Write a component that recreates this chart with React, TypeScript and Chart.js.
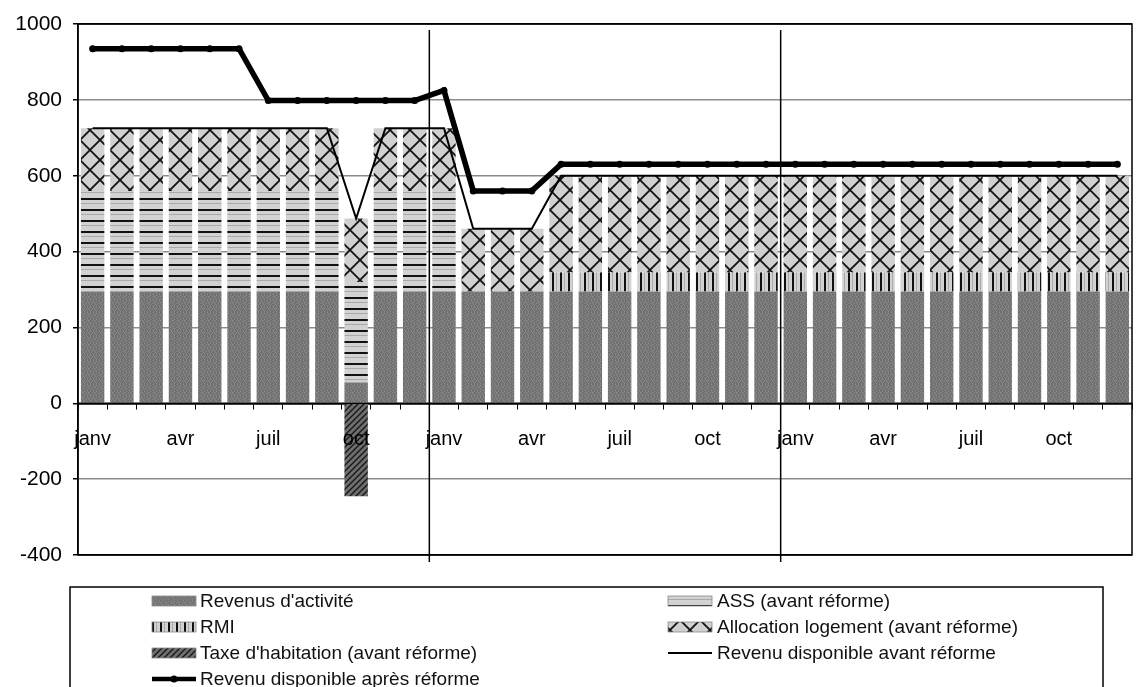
import React, { useEffect, useRef } from 'react';
import { Chart, registerables } from 'chart.js';

Chart.register(...registerables);

const months = [
  'janv', 'févr', 'mars', 'avr', 'mai', 'juin', 'juil', 'août', 'sept', 'oct', 'nov', 'déc',
  'janv', 'févr', 'mars', 'avr', 'mai', 'juin', 'juil', 'août', 'sept', 'oct', 'nov', 'déc',
  'janv', 'févr', 'mars', 'avr', 'mai', 'juin', 'juil', 'août', 'sept', 'oct', 'nov', 'déc',
];

const revenusActivite = [
  295, 295, 295, 295, 295, 295, 295, 295, 295, 55, 295, 295,
  295, 295, 295, 295, 295, 295, 295, 295, 295, 295, 295, 295,
  295, 295, 295, 295, 295, 295, 295, 295, 295, 295, 295, 295,
];
const assAvant = [
  265, 265, 265, 265, 265, 265, 265, 265, 265, 265, 265, 265,
  265, 0, 0, 0, 0, 0, 0, 0, 0, 0, 0, 0,
  0, 0, 0, 0, 0, 0, 0, 0, 0, 0, 0, 0,
];
const rmi = [
  0, 0, 0, 0, 0, 0, 0, 0, 0, 0, 0, 0,
  0, 0, 0, 0, 50, 50, 50, 50, 50, 50, 50, 50,
  50, 50, 50, 50, 50, 50, 50, 50, 50, 50, 50, 50,
];
const allocationLogement = [
  165, 165, 165, 165, 165, 165, 165, 165, 165, 167, 165, 165,
  165, 165, 165, 165, 255, 255, 255, 255, 255, 255, 255, 255,
  255, 255, 255, 255, 255, 255, 255, 255, 255, 255, 255, 255,
];
const taxeHabitation = [
  0, 0, 0, 0, 0, 0, 0, 0, 0, -245, 0, 0,
  0, 0, 0, 0, 0, 0, 0, 0, 0, 0, 0, 0,
  0, 0, 0, 0, 0, 0, 0, 0, 0, 0, 0, 0,
];
const revenuAvant = [
  725, 725, 725, 725, 725, 725, 725, 725, 725, 487, 725, 725,
  725, 460, 460, 460, 600, 600, 600, 600, 600, 600, 600, 600,
  600, 600, 600, 600, 600, 600, 600, 600, 600, 600, 600, 600,
];
const revenuApres = [
  935, 935, 935, 935, 935, 935, 798, 798, 798, 798, 798, 798,
  825, 560, 560, 560, 630, 630, 630, 630, 630, 630, 630, 630,
  630, 630, 630, 630, 630, 630, 630, 630, 630, 630, 630, 630,
];
const yTicks = [1000, 800, 600, 400, 200, 0, -200, -400];

const FONT = '"Liberation Sans", Arial, Helvetica, sans-serif';

function makePattern(w: number, h: number, draw: (g: CanvasRenderingContext2D) => void): CanvasPattern {
  const c = document.createElement('canvas');
  c.width = w;
  c.height = h;
  const g = c.getContext('2d') as CanvasRenderingContext2D;
  draw(g);
  return g.createPattern(c, 'repeat') as CanvasPattern;
}

function buildPatterns() {
  const stipple = [
    [0, 1, 0, 2, 1, 0],
    [2, 0, 1, 0, 0, 1],
    [0, 1, 0, 0, 2, 0],
    [1, 0, 2, 1, 0, 0],
    [0, 0, 1, 0, 1, 2],
    [2, 1, 0, 0, 0, 1],
  ];
  const shades = ['#7a7a7a', '#6a6a6a', '#8c8c8c'];
  const revenus = makePattern(6, 6, (g) => {
    for (let y = 0; y < 6; y++) {
      for (let x = 0; x < 6; x++) {
        g.fillStyle = shades[stipple[y][x]];
        g.fillRect(x, y, 1, 1);
      }
    }
  });
  const ass = makePattern(10, 11, (g) => {
    g.fillStyle = '#d2d2d2';
    g.fillRect(0, 0, 10, 11);
    g.fillStyle = '#111';
    g.fillRect(0, 0, 10, 2);
    g.fillStyle = '#a9a9a9';
    g.fillRect(0, 5, 10, 1);
  });
  const rmiP = makePattern(8, 10, (g) => {
    g.fillStyle = '#d2d2d2';
    g.fillRect(0, 0, 8, 10);
    g.fillStyle = '#111';
    g.fillRect(0, 0, 2, 10);
    g.fillStyle = '#ababab';
    g.fillRect(4, 0, 1, 10);
  });
  const al = makePattern(20, 20, (g) => {
    g.fillStyle = '#d0d0d0';
    g.fillRect(0, 0, 20, 20);
    g.strokeStyle = '#111';
    g.lineWidth = 1.8;
    g.beginPath();
    g.moveTo(-2, -2);
    g.lineTo(22, 22);
    g.moveTo(22, -2);
    g.lineTo(-2, 22);
    g.stroke();
  });
  const taxe = makePattern(6, 6, (g) => {
    g.fillStyle = '#6e6e6e';
    g.fillRect(0, 0, 6, 6);
    g.strokeStyle = '#151515';
    g.lineWidth = 1.3;
    g.beginPath();
    g.moveTo(-1, 7);
    g.lineTo(7, -1);
    g.moveTo(-4, 4);
    g.lineTo(4, -4);
    g.moveTo(2, 10);
    g.lineTo(10, 2);
    g.stroke();
  });
  return { revenus, ass, rmi: rmiP, al, taxe };
}

export default function App() {
  const ref = useRef<HTMLCanvasElement | null>(null);

  useEffect(() => {
    const canvas = ref.current;
    if (!canvas) return;
    const p = buildPatterns();

    const framePlugin = {
      id: 'frame',
      afterDatasetsDraw(chart: any) {
        const { ctx, chartArea, scales } = chart;
        const xs = scales.x;
        const ys = scales.y;
        ctx.save();
        ctx.strokeStyle = '#000';
        ctx.lineWidth = 1.5;
        [12, 24].forEach((i) => {
          const x = (xs.getPixelForValue(i - 1) + xs.getPixelForValue(i)) / 2;
          ctx.beginPath();
          ctx.moveTo(x, chartArea.top + 6);
          ctx.lineTo(x, chartArea.bottom + 7);
          ctx.stroke();
        });
        const y0 = ys.getPixelForValue(0);
        ctx.lineWidth = 1.5;
        ctx.beginPath();
        ctx.moveTo(chartArea.left, y0);
        ctx.lineTo(chartArea.right, y0);
        ctx.stroke();
        ctx.strokeRect(chartArea.left, chartArea.top, chartArea.right - chartArea.left, chartArea.bottom - chartArea.top);
        ctx.restore();
      },
      afterDraw(chart: any) {
        const { ctx } = chart;
        ctx.save();
        ctx.strokeStyle = '#000';
        ctx.lineWidth = 1.5;
        ctx.strokeRect(70, 587, 1033, 200);
        const rows = [601, 627, 653, 679];
        const items = [
          { col: 0, row: 0, kind: 'box', fill: p.revenus, text: "Revenus d'activité" },
          { col: 1, row: 0, kind: 'box', fill: p.ass, text: 'ASS (avant réforme)' },
          { col: 0, row: 1, kind: 'box', fill: p.rmi, text: 'RMI' },
          { col: 1, row: 1, kind: 'box', fill: p.al, text: 'Allocation logement (avant réforme)' },
          { col: 0, row: 2, kind: 'box', fill: p.taxe, text: "Taxe d'habitation (avant réforme)" },
          { col: 1, row: 2, kind: 'thin', fill: null, text: 'Revenu disponible avant réforme' },
          { col: 0, row: 3, kind: 'thick', fill: null, text: 'Revenu disponible après réforme' },
        ];
        const cols = [
          { sx: 152, sw: 44, tx: 200 },
          { sx: 668, sw: 44, tx: 717 },
        ];
        ctx.font = `19px ${FONT}`;
        ctx.textBaseline = 'middle';
        ctx.textAlign = 'left';
        items.forEach((it) => {
          const c = cols[it.col];
          const y = rows[it.row];
          if (it.kind === 'box') {
            ctx.fillStyle = it.fill;
            ctx.fillRect(c.sx, y - 5, c.sw, 10);
            ctx.strokeStyle = '#8a8a8a';
            ctx.lineWidth = 0.8;
            ctx.strokeRect(c.sx, y - 5, c.sw, 10);
          } else {
            ctx.strokeStyle = '#000';
            ctx.lineWidth = it.kind === 'thick' ? 4.5 : 2;
            ctx.beginPath();
            ctx.moveTo(c.sx, y);
            ctx.lineTo(c.sx + c.sw, y);
            ctx.stroke();
            if (it.kind === 'thick') {
              ctx.fillStyle = '#000';
              ctx.beginPath();
              ctx.arc(c.sx + c.sw / 2, y, 3.5, 0, Math.PI * 2);
              ctx.fill();
            }
          }
          ctx.fillStyle = '#111';
          ctx.fillText(it.text, c.tx, y + 1);
        });
        ctx.restore();
      },
    };

    const barCommon = {
      type: 'bar' as const,
      barPercentage: 0.8,
      categoryPercentage: 1,
      borderWidth: 0,
      order: 2,
    };

    const chart = new Chart(canvas, {
      type: 'bar',
      data: {
        labels: months,
        datasets: [
          { ...barCommon, label: "Revenus d'activité", data: revenusActivite, backgroundColor: p.revenus },
          { ...barCommon, label: 'ASS (avant réforme)', data: assAvant, backgroundColor: p.ass },
          { ...barCommon, label: 'RMI', data: rmi, backgroundColor: p.rmi },
          { ...barCommon, label: 'Allocation logement (avant réforme)', data: allocationLogement, backgroundColor: p.al },
          { ...barCommon, label: "Taxe d'habitation (avant réforme)", data: taxeHabitation, backgroundColor: p.taxe },
          {
            type: 'line',
            label: 'Revenu disponible avant réforme',
            data: revenuAvant,
            borderColor: '#000',
            borderWidth: 2,
            pointRadius: 0,
            tension: 0,
            stack: 'avant',
            order: 1,
          } as any,
          {
            type: 'line',
            label: 'Revenu disponible après réforme',
            data: revenuApres,
            borderColor: '#000',
            backgroundColor: '#000',
            borderWidth: 5.5,
            pointRadius: 3.5,
            pointBackgroundColor: '#000',
            pointBorderWidth: 0,
            tension: 0,
            stack: 'apres',
            order: 0,
          } as any,
        ],
      },
      options: {
        responsive: false,
        animation: false,
        layout: { padding: { left: 0, right: 8, top: 24, bottom: 132 } },
        plugins: {
          legend: { display: false },
          tooltip: { enabled: false },
        },
        scales: {
          x: {
            position: { y: 0 } as any,
            stacked: true,
            offset: true,
            grid: {
              display: true,
              drawOnChartArea: false,
              drawTicks: true,
              tickLength: 5,
              color: '#000',
              lineWidth: 1,
              offset: true,
            },
            border: { display: true, color: '#000', width: 1.5 },
            ticks: {
              z: 1,
              autoSkip: false,
              maxRotation: 0,
              minRotation: 0,
              padding: 19,
              color: '#000',
              font: { family: FONT, size: 20 },
              callback: (_v: any, i: number) => (i % 3 === 0 ? months[i] : ''),
            },
            afterFit: (s: any) => {
              s.height = 0;
              s.paddingLeft = 0;
              s.paddingRight = 0;
            },
          },
          y: {
            stacked: true,
            min: -400,
            max: 1000,
            afterBuildTicks: (s: any) => {
              s.ticks = yTicks.map((v) => ({ value: v }));
            },
            grid: {
              color: (c: any) => ([1000, 0, -400].includes(c.tick?.value) ? '#000' : '#8c8c8c'),
              lineWidth: 1.5,
              tickLength: 5,
              tickColor: '#000',
            },
            border: { display: true, color: '#000', width: 1.5 },
            ticks: {
              padding: 11,
              color: '#000',
              font: { family: FONT, size: 21 },
              callback: (v: any) => String(v),
            },
            afterFit: (s: any) => {
              s.width = 78;
              s.paddingTop = 0;
              s.paddingBottom = 0;
            },
          },
        },
      },
      plugins: [framePlugin],
    } as any);

    return () => chart.destroy();
  }, []);

  return (
    <div style={{ position: 'absolute', left: 0, top: 0, width: 1140, height: 687, background: '#fff', overflow: 'hidden' }}>
      <canvas ref={ref} width={1140} height={687} style={{ display: 'block' }} />
    </div>
  );
}
